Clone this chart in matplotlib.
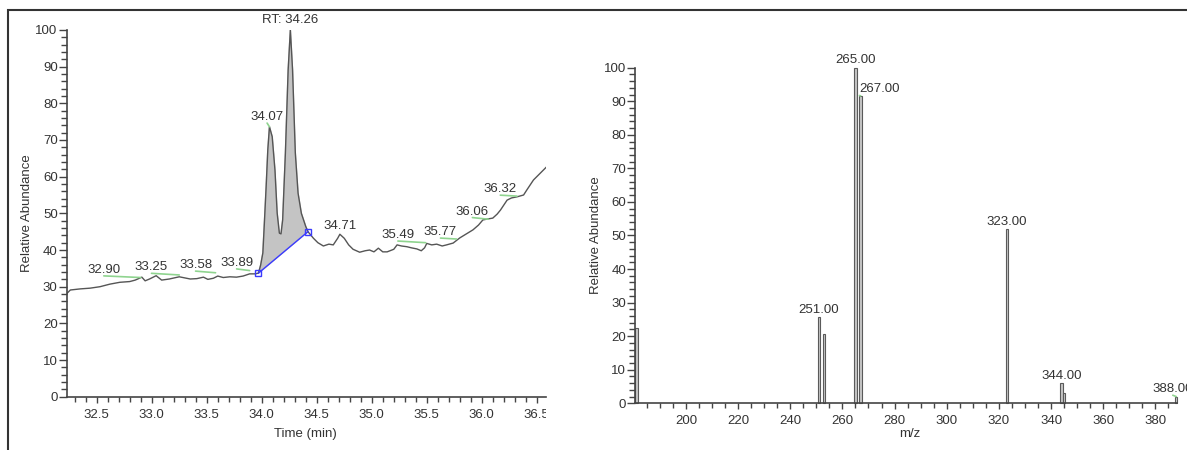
import numpy as np
import matplotlib
matplotlib.use("Agg")
import matplotlib.pyplot as plt
from matplotlib.ticker import MultipleLocator, FormatStrFormatter
from matplotlib.patches import Rectangle
from matplotlib.transforms import Bbox, TransformedBbox

plt.rcParams['font.family'] = ['Liberation Sans', 'DejaVu Sans']
plt.rcParams['font.size'] = 9.5

# chromatogram trace (time in min, relative abundance)
trace_time = [32.22, 32.26, 32.35, 32.44, 32.53, 32.62, 32.71, 32.80, 32.85, 32.91,
              32.94, 32.98, 33.04, 33.09, 33.16, 33.25, 33.35, 33.41, 33.47, 33.51,
              33.56, 33.60, 33.65, 33.71, 33.77, 33.83, 33.89, 33.94, 33.97,
              33.99, 34.01, 34.025, 34.04, 34.055, 34.07, 34.095, 34.12, 34.14, 34.16,
              34.175, 34.19, 34.215, 34.24, 34.26, 34.28, 34.305, 34.33, 34.36, 34.40,
              34.42,
              34.47, 34.51, 34.56, 34.61, 34.65, 34.69, 34.71, 34.75, 34.79, 34.83,
              34.89, 34.94, 34.98, 35.02, 35.06, 35.10, 35.14, 35.20, 35.23, 35.27,
              35.32, 35.36, 35.41, 35.45, 35.48, 35.50, 35.545, 35.59, 35.64, 35.68,
              35.74, 35.80, 35.86, 35.92, 35.97, 36.01, 36.06, 36.10, 36.14, 36.17,
              36.23, 36.27, 36.32, 36.38, 36.41, 36.47, 36.53, 36.59]
trace_abund = [27.9, 29.1, 29.4, 29.6, 30.0, 30.7, 31.2, 31.4, 31.8, 32.6,
               31.6, 32.1, 33.0, 31.8, 32.1, 32.7, 32.1, 32.2, 32.6, 32.0,
               32.3, 32.9, 32.5, 32.7, 32.6, 32.9, 33.5, 33.5, 33.7,
               35.9, 39.2, 48.1, 57.3, 67.3, 73.6, 70.9, 61.8, 50.1, 44.6,
               44.4, 48.2, 66.5, 89.1, 100.0, 89.1, 66.5, 55.5, 50.0, 46.4,
               45.0,
               43.2, 42.0, 41.1, 41.6, 41.4, 43.2, 44.3, 43.2, 41.4, 40.2,
               39.4, 39.8, 40.0, 39.5, 40.5, 39.5, 39.5, 40.2, 41.4, 41.1,
               40.9, 40.6, 40.3, 39.8, 40.6, 41.8, 41.4, 41.6, 41.1, 41.4,
               41.9, 43.3, 44.4, 45.5, 46.8, 48.2, 48.5, 48.7, 49.8, 50.9,
               53.6, 54.2, 54.5, 55.0, 56.4, 59.1, 60.9, 62.7]

# integrated peak: start / end of baseline
int_start = 33.97
int_end = 34.42

# labelled peaks in the chromatogram
peak_labels = ["32.90", "33.25", "33.58", "33.89", "34.07", "RT: 34.26",
               "34.71", "35.49", "35.77", "36.06", "36.32"]
peak_times = [32.90, 33.25, 33.58, 33.89, 34.07, 34.26,
              34.71, 35.49, 35.77, 36.06, 36.32]
peak_heights = [32.5, 33.2, 33.8, 34.4, 73.6, 100.0,
                44.3, 42.0, 43.0, 48.4, 54.7]

# mass spectrum
mz = [181, 251, 253, 265, 267, 323, 344, 345, 388]
intensity = [22.5, 25.6, 20.6, 100.0, 91.6, 51.9, 6.0, 3.2, 2.0]
mz_labels = {251: "251.00", 265: "265.00", 267: "267.00", 323: "323.00",
             344: "344.00", 388: "388.00"}

TEXT = '#333333'
AXC = '#444444'
GREEN = '#8fd48f'

fig = plt.figure(figsize=(11.87, 4.5), dpi=100)

# frame around the figure
fig.patches.append(Rectangle((8 / 1187, -0.2), 1.2, 1.2 - 10 / 450,
                             transform=fig.transFigure, fill=False,
                             edgecolor='#333333', lw=1.5))

ax1 = fig.add_axes([0.0562, 0.1184, 0.4038, 0.8150])
ax2 = fig.add_axes([0.5350, 0.1038, 0.4564, 0.7458])


def style_axes(ax):
    for s in ['top', 'right']:
        ax.spines[s].set_visible(False)
    for s in ['left', 'bottom']:
        ax.spines[s].set_color(AXC)
        ax.spines[s].set_linewidth(1.2)
    ax.tick_params(which='both', direction='out', colors=AXC, labelcolor=TEXT)
    ax.tick_params(axis='y', which='major', length=5.5, width=1, pad=1)
    ax.tick_params(axis='y', which='minor', length=4, width=1)
    ax.tick_params(axis='x', which='major', length=4.5, width=1, pad=4)
    ax.tick_params(axis='x', which='minor', length=3.5, width=1)
    ax.yaxis.set_major_locator(MultipleLocator(10))
    ax.yaxis.set_minor_locator(MultipleLocator(2))
    ax.set_ylim(0, 100)
    ax.set_ylabel("Relative Abundance", color=TEXT)


def leader(rel_x):
    return dict(arrowstyle='-', color=GREEN, lw=1.2, shrinkA=0, shrinkB=0,
                patchA=None, relpos=(rel_x, 0.0))


# ---- chromatogram ----
style_axes(ax1)
t = np.array(trace_time)
a = np.array(trace_abund)
i0 = trace_time.index(int_start)
i1 = trace_time.index(int_end)
ax1.fill(t[i0:i1 + 1], a[i0:i1 + 1], color='#c4c4c4', zorder=1)
ax1.plot(t, a, color='#555555', lw=1.0, zorder=2)
ax1.plot([t[i0], t[i1]], [a[i0], a[i1]], color='#3a3aff', lw=1.0,
         marker='s', ms=5, mfc='none', mec='#3a3aff', zorder=3)

# label offsets (points) from each apex
offsets = [(-26.6, 5.5), (-20, 5.5), (-14.4, 5.5), (-9.4, 5.5), (-1.7, 7),
           (0, 7.2), (0, 6), (-20, 5.5), (-11.5, 5), (-11.5, 5.5), (-12, 5)]
for lab, pt, ph, off in zip(peak_labels, peak_times, peak_heights, offsets):
    arrow = leader(0.5) if abs(off[0]) > 1 else None
    ax1.annotate(lab, xy=(pt, ph), xytext=off, textcoords='offset points',
                 ha='center', va='center', color=TEXT, arrowprops=arrow,
                 annotation_clip=False)

ax1.set_xlim(32.227, 36.584)
ax1.xaxis.set_major_locator(MultipleLocator(0.5))
ax1.xaxis.set_minor_locator(MultipleLocator(0.1))
ax1.xaxis.set_major_formatter(FormatStrFormatter('%.1f'))
ax1.set_xlabel("Time (min)", color=TEXT)
ax1.xaxis.set_label_coords(0.497, -0.084)
ax1.yaxis.set_label_coords(-0.070, 0.5)

# ---- mass spectrum ----
style_axes(ax2)
ax2.bar(mz, intensity, width=0.9, color='#c8c8c8', edgecolor='#5a5a5a',
        lw=0.8, zorder=2, clip_on=False)
spec_off = {251: (0, 5.3), 265: (0, 5.5), 267: (13.7, 4.6), 323: (0, 5.3),
            344: (0, 5), 388: (-2.5, 5.3)}
for m, h in zip(mz, intensity):
    if m not in mz_labels:
        continue
    off = spec_off[m]
    arrow = leader(0.0 if off[0] > 0 else 0.5) if abs(off[0]) > 1 else None
    ax2.annotate(mz_labels[m], xy=(m, h), xytext=off, textcoords='offset points',
                 ha='center', va='center', color=TEXT, arrowprops=arrow,
                 annotation_clip=False)

ax2.set_xlim(180.5, 388.2)
ax2.xaxis.set_major_locator(MultipleLocator(20))
ax2.xaxis.set_minor_locator(MultipleLocator(5))
ax2.set_xlabel("m/z", color=TEXT)
ax2.xaxis.set_label_coords(0.508, -0.074)
ax2.yaxis.set_label_coords(-0.061, 0.5)

# the last time label is cut at the end of the axis
fig.canvas.draw()
clip = TransformedBbox(Bbox([[-0.2, -0.5], [1.0, 1.2]]), ax1.transAxes)
for lbl in ax1.get_xticklabels():
    lbl.set_clip_box(clip)
    lbl.set_clip_on(True)

fig.savefig("out.png", dpi=100)
